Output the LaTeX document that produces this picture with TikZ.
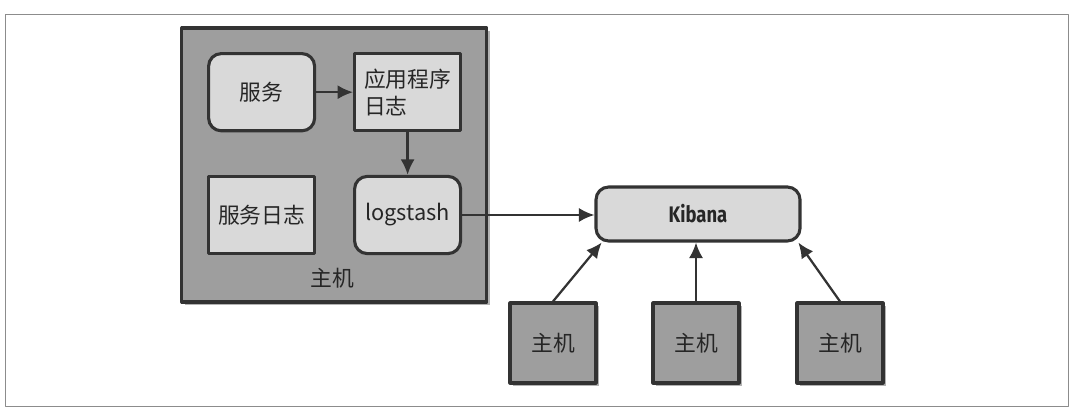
\documentclass[tikz,border=0pt]{standalone}
\usepackage{fontspec}
\setmainfont{Noto Sans CJK SC}
\newfontfamily\kibfont{Fira Sans}[FakeStretch=0.82]
\usetikzlibrary{arrows.meta,shadows}

\begin{document}
\begin{tikzpicture}[line join=round, text=black!85,
  hostbg/.style={draw=black!80, line width=2.2pt, fill=black!38, inner sep=0pt,
    drop shadow={shadow xshift=2pt, shadow yshift=-2pt, opacity=0.6}},
  hostsm/.style={hostbg, minimum width=2.15cm, minimum height=2cm, font=\fontsize{15.5}{19}\selectfont},
  inbox/.style={draw=black!80, line width=2.2pt, fill=black!15, minimum width=2.65cm, minimum height=1.93cm, font=\fontsize{15.5}{19}\selectfont},
  rbox/.style={inbox, rounded corners=9pt},
  arr/.style={draw=black!80, line width=1.6pt, -{Latex[length=11pt,width=10pt]}}]
\useasboundingbox (0,0) rectangle (26.825,10.225);
\draw[black!45, line width=0.6pt] (0.125,0.075) rectangle (26.7,9.875);
% the host with its services
\node[hostbg, minimum width=7.625cm, minimum height=6.85cm] (host) at (8.36,6.1) {};
\node[rbox] (svc) at (6.54,7.92) {服务};
\node[inbox, align=left] (applog) at (10.19,7.92) {应用程序\\日志};
\node[inbox] (svclog) at (6.54,4.85) {服务日志};
\node[rbox] (ls) at (10.19,4.85) {logstash};
\node[font=\fontsize{15.5}{19}\selectfont] (hostlbl) at (8.3,3.275) {主机};
% kibana and the other hosts
\node[rbox, minimum width=5.1cm, minimum height=1.35cm, font=\kibfont\bfseries\fontsize{16}{19}\selectfont] (kib) at (17.45,4.875) {Kibana};
\node[hostsm] (h1) at (13.825,1.65) {主机};
\node[hostsm] (h2) at (17.4,1.65) {主机};
\node[hostsm] (h3) at (21,1.65) {主机};
\draw[arr] (svc.east) -- (svc.east -| applog.west);
\draw[arr] (applog.south) -- (ls.north);
\draw[arr] (ls.east) -- (ls.east -| kib.west);
\draw[arr] (h1.north) -- ([xshift=0.18cm]kib.south west);
\draw[arr] (h2.north) -- (h2.north |- kib.south);
\draw[arr] (h3.north) -- ([xshift=-0.08cm]kib.south east);
\end{tikzpicture}
\end{document}
